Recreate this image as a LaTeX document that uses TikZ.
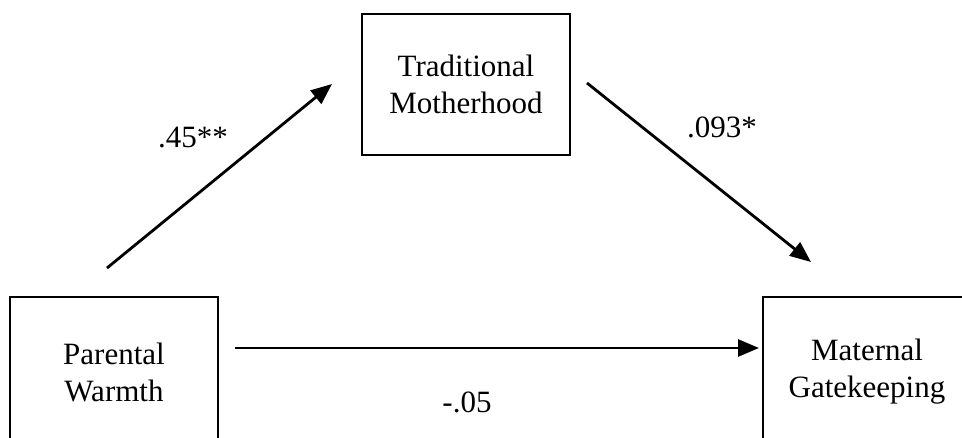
\documentclass[tikz,border=0pt]{standalone}
\usepackage{fontspec}
\setmainfont{Liberation Serif}
\usetikzlibrary{arrows.meta}
\begin{document}
\begin{tikzpicture}[x=1pt,y=-1pt,
  varbox/.style={draw,line width=2.8pt,minimum width=208pt,minimum height=141pt,inner sep=0pt,align=center,font=\fontsize{31}{37}\selectfont},
  lowbox/.style={varbox,minimum height=150pt},
  lbl/.style={inner sep=0pt,font=\fontsize{31}{37}\selectfont},
  arr/.style={line width=2.8pt,-{Triangle[length=21pt,width=17pt]}}]
\useasboundingbox (0,0) rectangle (962,438);
\clip (0,0) rectangle (962,438);
\fill[white] (0,0) rectangle (962,438);
\node[varbox] (tm) at (466,84.5) {Traditional\\Motherhood};
\node[lowbox] (pw) at (114,372) {Parental\\Warmth};
\node[lowbox] (mg) at (867,372) {Maternal\\Gatekeeping};
\coordinate (a1) at (107,268);
\coordinate (a2) at (332,84);
\coordinate (b1) at (587,83);
\coordinate (b2) at (811,262);
\coordinate (c1) at (235,348);
\coordinate (c2) at (759,348);
\draw[arr] (a1) -- (a2);
\draw[arr] (b1) -- (b2);
\draw[arr] (c1) -- (c2);
\node[lbl] (l1) at (193,138) {.45**};
\node[lbl] (l2) at (722,127) {.093*};
\node[lbl] (l3) at (467,402) {-.05};
\end{tikzpicture}
\end{document}
